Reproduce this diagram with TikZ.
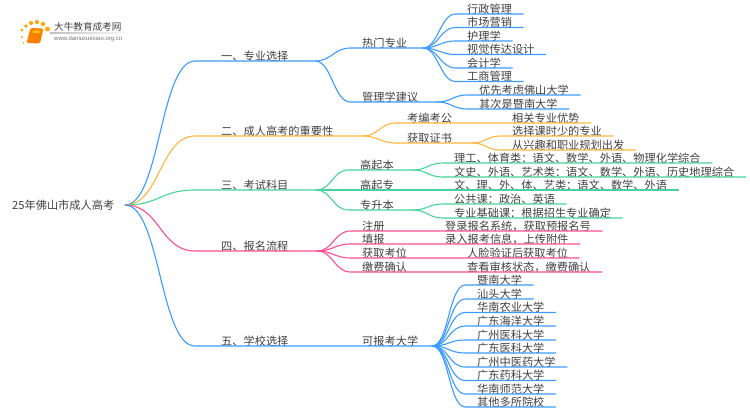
\documentclass[tikz,border=0pt]{standalone}
\usepackage{fontspec}
\setmainfont{Noto Sans CJK SC}
\newfontfamily\urlfont{Liberation Sans}
\definecolor{bluemap}{HTML}{3D9BFF}
\definecolor{orangemap}{HTML}{FFB53F}
\definecolor{greenmap}{HTML}{45D49B}
\definecolor{pinkmap}{HTML}{FF4D94}
\definecolor{inkmap}{HTML}{404040}
\tikzset{
	txt/.style={anchor=south west,inner ysep=0pt,text=inkmap,font=\fontsize{11.2}{12}\selectfont,text height=9pt,text depth=0.6pt},
	lvlone/.style={txt,inner xsep=26pt},
	lvltwo/.style={txt,inner xsep=11.5pt},
	blueline/.style={draw=bluemap,line width=1.1pt},
	orangeline/.style={draw=orangemap,line width=1.1pt},
	greenline/.style={draw=greenmap,line width=1.1pt},
	pinkline/.style={draw=pinkmap,line width=1.1pt},
	link/.style={to path={.. controls +(#1,0) and +(-#1,0) .. (\tikztotarget)}},
	link/.default=15
}
\begin{document}
\begin{tikzpicture}[x=1pt,y=-1pt]
	\useasboundingbox (0,0) rectangle (750,410);

	\fill[orange!70!yellow] (22,30) circle (1.5);
	\fill[orange!70!yellow] (26,26) circle (1.8);
	\fill[orange!70!yellow] (31,23) circle (2.1);
	\fill[orange!70!yellow] (37,22) circle (2.1);
	\fill[orange!70!yellow] (43,24) circle (2.2);
	\fill[orange!70!yellow] (47.5,29) circle (2.5);
	\fill[orange!70!yellow] (22,37) circle (1.1);
	\fill[orange!70!yellow] (23.5,43) circle (0.9);
	\fill[orange,rounded corners=1.5pt] (30.5,28) -- (43.5,28.5) -- (40,43.5) -- (26.5,43) -- cycle;
	\fill[yellow!60!orange,rounded corners=0.5pt] (33,30.5) -- (40.5,30.8) -- (40,33) -- (32.5,32.7) -- cycle;
	\fill[left color=black!25,right color=white] (50,32.8) rectangle (133,33.5);
	\node[anchor=west,inner sep=0pt,text=inkmap,font=\fontsize{9.6}{10}\selectfont] (logotitle) at (54,27) {大牛教育成考网};
	\node[anchor=west,inner sep=0pt,text=black!55,font=\urlfont\fontsize{6}{6}\selectfont] (logourl) at (54,38.5) {www.daniuxuexiao.org.cn};

	\node[anchor=west,inner sep=0pt,text=inkmap,font=\fontsize{11.2}{12}\selectfont] (root) at (12,205) {25年佛山市成人高考};
	\coordinate (rootfork) at (125,205);

	\node[lvlone] (major) at (195,61) {一、专业选择};
	\node[lvlone] (value) at (195,136) {二、成人高考的重要性};
	\node[lvlone] (exam) at (195,190) {三、考试科目};
	\node[lvlone] (apply) at (195,251) {四、报名流程};
	\node[lvlone] (school) at (195,346) {五、学校选择};
	\coordinate (majorfork) at (315,61);
	\coordinate (valuefork) at (363,136);
	\coordinate (examfork) at (316,190);
	\coordinate (applyfork) at (317,251);
	\node[lvltwo] (avail) at (350.5,346) {可报考大学};
	\coordinate (availfork) at (432,346);
	\draw[blueline] (rootfork) to[link=35] (major.south west) -- (major.south east) -- (majorfork);
	\draw[orangeline] (rootfork) to[link=35] (value.south west) -- (value.south east) -- (valuefork);
	\draw[greenline] (rootfork) to[link=35] (exam.south west) -- (exam.south east) -- (examfork);
	\draw[pinkline] (rootfork) to[link=35] (apply.south west) -- (apply.south east) -- (applyfork);
	\draw[blueline] (rootfork) to[link=35] (school.south west) -- (school.south east) -- (avail.south west) -- (avail.south east) -- (availfork);

	\node[lvltwo] (hot) at (350.5,48) {热门专业};
	\node[lvltwo] (advice) at (350.5,102) {管理学建议};
	\coordinate (hotfork) at (423,48);
	\coordinate (advicefork) at (437,102);
	\draw[blueline] (majorfork) to[link=17] (hot.south west) -- (hot.south east) -- (hotfork);
	\draw[blueline] (majorfork) to[link=17] (advice.south west) -- (advice.south east) -- (advicefork);

	\node[lvltwo] (hota) at (455.5,14) {行政管理};
	\node[lvltwo] (hotb) at (455.5,27.5) {市场营销};
	\node[lvltwo] (hotc) at (455.5,41) {护理学};
	\node[lvltwo] (hotd) at (455.5,54.5) {视觉传达设计};
	\node[lvltwo] (hote) at (455.5,68) {会计学};
	\node[lvltwo] (hotf) at (455.5,81.5) {工商管理};
	\draw[blueline] (hotfork) to[link] (hota.south west) -- (hota.south east);
	\draw[blueline] (hotfork) to[link] (hotb.south west) -- (hotb.south east);
	\draw[blueline] (hotfork) to[link] (hotc.south west) -- (hotc.south east);
	\draw[blueline] (hotfork) to[link] (hotd.south west) -- (hotd.south east);
	\draw[blueline] (hotfork) to[link] (hote.south west) -- (hote.south east);
	\draw[blueline] (hotfork) to[link] (hotf.south west) -- (hotf.south east);

	\node[lvltwo] (advicea) at (467.5,95) {优先考虑佛山大学};
	\node[lvltwo] (adviceb) at (467.5,109) {其次是暨南大学};
	\draw[blueline] (advicefork) to[link] (advicea.south west) -- (advicea.south east);
	\draw[blueline] (advicefork) to[link] (adviceb.south west) -- (adviceb.south east);

	\node[lvltwo] (civil) at (395.5,123) {考编考公};
	\node[lvltwo] (civila) at (500.5,123) {相关专业优势};
	\node[lvltwo] (cert) at (395.5,143) {获取证书};
	\coordinate (certfork) at (472,143);
	\node[lvltwo] (certa) at (500.5,136) {选择课时少的专业};
	\node[lvltwo] (certb) at (500.5,150) {从兴趣和职业规划出发};
	\draw[orangeline] (valuefork) to[link] (civil.south west) -- (civil.south east) -- (civila.south west) -- (civila.south east);
	\draw[orangeline] (valuefork) to[link] (cert.south west) -- (cert.south east) -- (certfork);
	\draw[orangeline] (certfork) to[link=14] (certa.south west) -- (certa.south east);
	\draw[orangeline] (certfork) to[link=14] (certb.south west) -- (certb.south east);

	\node[lvltwo] (hsb) at (348.5,170) {高起本};
	\node[lvltwo] (hsz) at (348.5,190) {高起专};
	\node[lvltwo] (zsb) at (348.5,210) {专升本};
	\coordinate (hsbfork) at (413,170);
	\coordinate (zsbfork) at (413,210);
	\node[lvltwo] (hsba) at (442.5,163) {理工、体育类：语文、数学、外语、物理化学综合};
	\node[lvltwo] (hsbb) at (442.5,177) {文史、外语、艺术类：语文、数学、外语、历史地理综合};
	\node[lvltwo] (hsza) at (442.5,190) {文、理、外、体、艺类：语文、数学、外语};
	\node[lvltwo] (zsba) at (442.5,204) {公共课：政治、英语};
	\node[lvltwo] (zsbb) at (442.5,218) {专业基础课：根据招生专业确定};
	\draw[greenline] (examfork) to[link=16] (hsb.south west) -- (hsb.south east) -- (hsbfork);
	\draw[greenline] (examfork) to[link=16] (hsz.south west) -- (hsz.south east) -- (hsza.south west) -- (hsza.south east);
	\draw[greenline] (examfork) to[link=16] (zsb.south west) -- (zsb.south east) -- (zsbfork);
	\draw[greenline] (hsbfork) to[link=14] (hsba.south west) -- (hsba.south east);
	\draw[greenline] (hsbfork) to[link=14] (hsbb.south west) -- (hsbb.south east);
	\draw[greenline] (zsbfork) to[link=14] (zsba.south west) -- (zsba.south east);
	\draw[greenline] (zsbfork) to[link=14] (zsbb.south west) -- (zsbb.south east);

	\node[lvltwo] (reg) at (350.5,231) {注册};
	\node[lvltwo] (fill) at (350.5,244) {填报};
	\node[lvltwo] (seat) at (350.5,258) {获取考位};
	\node[lvltwo] (pay) at (350.5,272) {缴费确认};
	\node[lvltwo] (rega) at (433.5,231) {登录报名系统，获取预报名号};
	\node[lvltwo] (filla) at (433.5,244) {录入报考信息，上传附件};
	\node[lvltwo] (seata) at (455.5,258) {人脸验证后获取考位};
	\node[lvltwo] (paya) at (455.5,272) {查看审核状态，缴费确认};
	\draw[pinkline] (applyfork) to[link=16] (reg.south west) -- (reg.south east) -- (rega.south west) -- (rega.south east);
	\draw[pinkline] (applyfork) to[link=16] (fill.south west) -- (fill.south east) -- (filla.south west) -- (filla.south east);
	\draw[pinkline] (applyfork) to[link=16] (seat.south west) -- (seat.south east) -- (seata.south west) -- (seata.south east);
	\draw[pinkline] (applyfork) to[link=16] (pay.south west) -- (pay.south east) -- (paya.south west) -- (paya.south east);

	\node[lvltwo] (unia) at (465.5,285) {暨南大学};
	\node[lvltwo] (unib) at (465.5,299) {汕头大学};
	\node[lvltwo] (unic) at (465.5,312.5) {华南农业大学};
	\node[lvltwo] (unid) at (465.5,326) {广东海洋大学};
	\node[lvltwo] (unie) at (465.5,340) {广州医科大学};
	\node[lvltwo] (unif) at (465.5,353) {广东医科大学};
	\node[lvltwo] (unig) at (465.5,367) {广州中医药大学};
	\node[lvltwo] (unih) at (465.5,380.5) {广东药科大学};
	\node[lvltwo] (unii) at (465.5,394) {华南师范大学};
	\node[lvltwo] (unij) at (465.5,407) {其他多所院校};
	\draw[blueline] (availfork) to[link=17] (unia.south west) -- (unia.south east);
	\draw[blueline] (availfork) to[link=17] (unib.south west) -- (unib.south east);
	\draw[blueline] (availfork) to[link=17] (unic.south west) -- (unic.south east);
	\draw[blueline] (availfork) to[link=17] (unid.south west) -- (unid.south east);
	\draw[blueline] (availfork) to[link=17] (unie.south west) -- (unie.south east);
	\draw[blueline] (availfork) to[link=17] (unif.south west) -- (unif.south east);
	\draw[blueline] (availfork) to[link=17] (unig.south west) -- (unig.south east);
	\draw[blueline] (availfork) to[link=17] (unih.south west) -- (unih.south east);
	\draw[blueline] (availfork) to[link=17] (unii.south west) -- (unii.south east);
	\draw[blueline] (availfork) to[link=17] (unij.south west) -- (unij.south east);
\end{tikzpicture}
\end{document}
